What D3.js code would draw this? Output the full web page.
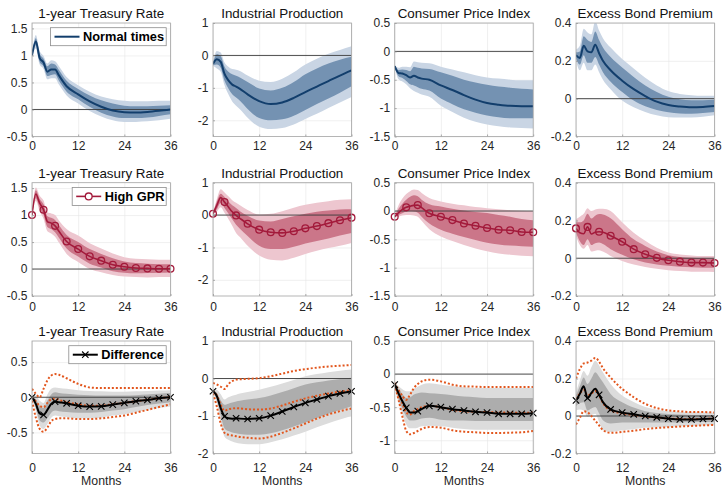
<!DOCTYPE html>
<html>
<head>
<meta charset="utf-8">
<script src="https://cdn.jsdelivr.net/npm/d3@7"></script>
<style>
body { margin: 0; background: #fff; }
text { font-family: "Liberation Sans", Arial, Helvetica, sans-serif; }
</style>
</head>
<body>
<div id="chart"></div>
<script>
var months = [0, 1, 2, 3, 4, 5, 6, 7, 9, 12, 15, 18, 21, 24, 27, 30, 33, 36];
var xTicks = [0, 12, 24, 36];
var titles = ["1-year Treasury Rate", "Industrial Production", "Consumer Price Index", "Excess Bond Premium"];
var legendNames = ["Normal times", "High GPR", "Difference"];

// y limits and ticks, per row / column
var yDomains = [
  [[-0.5, 1.6], [-2.5, 1], [-1.5, 0.5], [-0.2, 0.4]],
  [[-0.5, 1.6], [-2.5, 1], [-1.5, 0.5], [-0.2, 0.4]],
  [[-0.8, 0.8], [-2, 1], [-1.2, 0.5], [-0.2, 0.4]]
];
var yTicks = [
  [[-0.5, 0, 0.5, 1, 1.5], [-2, -1, 0, 1], [-1.5, -1, -0.5, 0, 0.5], [-0.2, 0, 0.2, 0.4]],
  [[-0.5, 0, 0.5, 1, 1.5], [-2, -1, 0, 1], [-1.5, -1, -0.5, 0, 0.5], [-0.2, 0, 0.2, 0.4]],
  [[-0.5, 0, 0.5], [-2, -1, 0, 1], [-1, -0.5, 0, 0.5], [-0.2, 0, 0.2, 0.4]]
];

// ---- Normal times ----
var tbNormMid  = [1.0, 1.26, 0.95, 0.87, 0.70, 0.74, 0.74, 0.63, 0.43, 0.28, 0.15, 0.05, -0.02, -0.05, -0.055, -0.045, -0.025, 0.0];
var tbNormHi68 = [1.02, 1.32, 1.03, 0.94, 0.80, 0.85, 0.83, 0.73, 0.53, 0.38, 0.26, 0.17, 0.11, 0.07, 0.06, 0.06, 0.07, 0.08];
var tbNormLo68 = [0.98, 1.19, 0.88, 0.80, 0.62, 0.64, 0.65, 0.53, 0.33, 0.19, 0.05, -0.06, -0.13, -0.16, -0.16, -0.15, -0.12, -0.09];
var tbNormHi90 = [1.03, 1.38, 1.08, 0.99, 0.85, 0.91, 0.89, 0.80, 0.60, 0.45, 0.33, 0.24, 0.19, 0.16, 0.15, 0.15, 0.16, 0.16];
var tbNormLo90 = [0.97, 1.13, 0.83, 0.75, 0.56, 0.58, 0.58, 0.46, 0.26, 0.11, -0.03, -0.13, -0.20, -0.23, -0.23, -0.22, -0.20, -0.17];

var ipNormMid  = [-0.26, -0.12, -0.2, -0.57, -0.77, -0.9, -0.96, -1.03, -1.2, -1.41, -1.5, -1.45, -1.31, -1.13, -0.96, -0.79, -0.62, -0.46];
var ipNormHi68 = [-0.22, 0.04, -0.02, -0.35, -0.5, -0.58, -0.63, -0.68, -0.82, -1.02, -1.08, -1.0, -0.82, -0.58, -0.4, -0.25, -0.13, -0.04];
var ipNormLo68 = [-0.30, -0.28, -0.38, -0.78, -1.02, -1.2, -1.3, -1.4, -1.65, -1.93, -2.0, -1.97, -1.86, -1.68, -1.5, -1.33, -1.15, -0.95];
var ipNormHi90 = [-0.2, 0.14, 0.09, -0.22, -0.35, -0.42, -0.44, -0.48, -0.62, -0.78, -0.82, -0.72, -0.52, -0.28, -0.1, 0.05, 0.17, 0.28];
var ipNormLo90 = [-0.32, -0.4, -0.5, -0.92, -1.2, -1.42, -1.55, -1.66, -1.92, -2.2, -2.27, -2.24, -2.13, -1.96, -1.8, -1.62, -1.45, -1.28];

var cpiNormMid  = [-0.26, -0.38, -0.39, -0.42, -0.46, -0.43, -0.46, -0.48, -0.5, -0.6, -0.68, -0.77, -0.85, -0.91, -0.94, -0.96, -0.965, -0.965];
var cpiNormHi68 = [-0.25, -0.33, -0.32, -0.33, -0.35, -0.27, -0.29, -0.3, -0.31, -0.37, -0.43, -0.5, -0.55, -0.59, -0.62, -0.64, -0.66, -0.67];
var cpiNormLo68 = [-0.27, -0.44, -0.47, -0.52, -0.58, -0.6, -0.63, -0.66, -0.69, -0.83, -0.93, -1.02, -1.08, -1.13, -1.16, -1.18, -1.18, -1.18];
var cpiNormHi90 = [-0.24, -0.29, -0.27, -0.27, -0.28, -0.18, -0.19, -0.2, -0.21, -0.27, -0.32, -0.37, -0.42, -0.46, -0.48, -0.5, -0.51, -0.51];
var cpiNormLo90 = [-0.28, -0.49, -0.53, -0.58, -0.65, -0.7, -0.73, -0.76, -0.8, -0.96, -1.07, -1.17, -1.24, -1.29, -1.32, -1.34, -1.35, -1.36];

var ebpNormMid  = [0.23, 0.215, 0.28, 0.25, 0.245, 0.285, 0.24, 0.2, 0.15, 0.095, 0.05, 0.014, -0.016, -0.034, -0.042, -0.046, -0.044, -0.039];
var ebpNormHi68 = [0.245, 0.25, 0.33, 0.31, 0.3, 0.355, 0.31, 0.27, 0.22, 0.165, 0.115, 0.07, 0.035, 0.01, -0.003, -0.008, -0.008, -0.006];
var ebpNormLo68 = [0.215, 0.18, 0.23, 0.19, 0.19, 0.22, 0.18, 0.14, 0.09, 0.035, -0.01, -0.04, -0.06, -0.072, -0.078, -0.08, -0.076, -0.07];
var ebpNormHi90 = [0.26, 0.28, 0.37, 0.35, 0.34, 0.41, 0.36, 0.32, 0.27, 0.21, 0.16, 0.11, 0.07, 0.04, 0.025, 0.018, 0.015, 0.015];
var ebpNormLo90 = [0.2, 0.15, 0.19, 0.15, 0.15, 0.18, 0.14, 0.1, 0.05, -0.01, -0.045, -0.07, -0.088, -0.098, -0.1, -0.1, -0.095, -0.088];

// ---- High GPR ----
var tbGprMid  = [1.0, 1.39, 1.22, 1.1, 0.88, 0.85, 0.8, 0.7, 0.51, 0.37, 0.235, 0.155, 0.08, 0.043, 0.02, 0.012, 0.006, 0.006];
var tbGprHi68 = [1.01, 1.46, 1.3, 1.2, 0.98, 0.95, 0.91, 0.81, 0.63, 0.5, 0.37, 0.28, 0.2, 0.14, 0.11, 0.1, 0.09, 0.09];
var tbGprLo68 = [0.99, 1.31, 1.13, 1.0, 0.78, 0.74, 0.68, 0.58, 0.38, 0.23, 0.1, 0.03, -0.04, -0.07, -0.08, -0.075, -0.07, -0.065];
var tbGprHi90 = [1.02, 1.51, 1.36, 1.27, 1.05, 1.03, 1.0, 0.9, 0.74, 0.62, 0.48, 0.38, 0.29, 0.22, 0.19, 0.18, 0.17, 0.17];
var tbGprLo90 = [0.98, 1.26, 1.07, 0.93, 0.7, 0.66, 0.6, 0.49, 0.28, 0.13, 0.0, -0.06, -0.11, -0.14, -0.15, -0.155, -0.15, -0.15];

var ipGprMid  = [0.04, 0.3, 0.54, 0.4, 0.25, 0.1, -0.01, -0.1, -0.27, -0.45, -0.53, -0.55, -0.5, -0.41, -0.34, -0.25, -0.16, -0.08];
var ipGprHi68 = [0.06, 0.42, 0.66, 0.56, 0.42, 0.3, 0.22, 0.12, -0.02, -0.17, -0.2, -0.12, -0.04, 0.04, 0.1, 0.14, 0.17, 0.18];
var ipGprLo68 = [0.02, 0.18, 0.38, 0.22, 0.05, -0.13, -0.3, -0.42, -0.65, -0.95, -1.05, -1.05, -0.98, -0.88, -0.8, -0.72, -0.63, -0.55];
var ipGprHi90 = [0.07, 0.5, 0.8, 0.7, 0.58, 0.46, 0.38, 0.3, 0.16, 0.02, 0.04, 0.12, 0.23, 0.32, 0.38, 0.43, 0.47, 0.49];
var ipGprLo90 = [0.01, 0.1, 0.24, 0.07, -0.12, -0.33, -0.55, -0.68, -0.95, -1.25, -1.38, -1.4, -1.32, -1.2, -1.1, -1.02, -0.95, -0.86];

var cpiGprMid  = [-0.1, -0.03, 0.03, 0.065, 0.085, 0.1, 0.105, 0.06, -0.04, -0.1, -0.16, -0.22, -0.26, -0.3, -0.33, -0.34, -0.37, -0.375];
var cpiGprHi68 = [-0.09, 0.04, 0.13, 0.2, 0.25, 0.28, 0.26, 0.2, 0.12, 0.08, 0.04, 0.01, -0.015, -0.035, -0.07, -0.1, -0.14, -0.165];
var cpiGprLo68 = [-0.11, -0.07, -0.04, -0.01, -0.005, -0.01, -0.03, -0.1, -0.22, -0.33, -0.4, -0.46, -0.51, -0.56, -0.59, -0.61, -0.62, -0.63];
var cpiGprHi90 = [-0.08, 0.1, 0.22, 0.3, 0.35, 0.38, 0.37, 0.32, 0.23, 0.17, 0.13, 0.1, 0.07, 0.05, 0.03, 0.015, 0.005, 0.0];
var cpiGprLo90 = [-0.12, -0.1, -0.08, -0.07, -0.07, -0.08, -0.1, -0.17, -0.32, -0.45, -0.53, -0.6, -0.66, -0.71, -0.75, -0.77, -0.79, -0.8];

var ebpGprMid  = [0.158, 0.135, 0.13, 0.166, 0.128, 0.138, 0.14, 0.138, 0.119, 0.087, 0.048, 0.021, 0.002, -0.011, -0.018, -0.023, -0.023, -0.025];
var ebpGprHi68 = [0.19, 0.19, 0.2, 0.235, 0.21, 0.225, 0.234, 0.232, 0.212, 0.154, 0.1, 0.065, 0.035, 0.016, 0.007, 0.002, 0.0, 0.0];
var ebpGprLo68 = [0.136, 0.09, 0.07, 0.1, 0.07, 0.08, 0.083, 0.075, 0.048, 0.018, -0.006, -0.023, -0.033, -0.04, -0.045, -0.048, -0.05, -0.05];
var ebpGprHi90 = [0.207, 0.22, 0.235, 0.265, 0.25, 0.258, 0.262, 0.262, 0.25, 0.19, 0.135, 0.092, 0.055, 0.03, 0.02, 0.015, 0.012, 0.012];
var ebpGprLo90 = [0.119, 0.07, 0.05, 0.07, 0.035, 0.04, 0.042, 0.035, 0.012, -0.014, -0.033, -0.046, -0.056, -0.064, -0.068, -0.071, -0.072, -0.073];

// ---- Difference (gray bands + orange dotted lines) ----
var tbDiffMid  = [0.0, -0.095, -0.23, -0.25, -0.18, -0.095, -0.062, -0.07, -0.086, -0.12, -0.133, -0.129, -0.105, -0.08, -0.057, -0.038, -0.014, 0.0];
var tbDiffHi68 = [0.015, -0.03, -0.12, -0.15, -0.05, 0.04, 0.07, 0.06, 0.05, 0.035, 0.03, 0.025, 0.025, 0.025, 0.03, 0.04, 0.05, 0.06];
var tbDiffLo68 = [-0.015, -0.15, -0.33, -0.36, -0.3, -0.22, -0.19, -0.2, -0.21, -0.22, -0.22, -0.21, -0.19, -0.17, -0.14, -0.11, -0.09, -0.07];
var tbDiffHi90 = [0.03, 0.02, -0.05, -0.08, 0.04, 0.12, 0.14, 0.13, 0.12, 0.1, 0.09, 0.085, 0.08, 0.08, 0.085, 0.09, 0.095, 0.1];
var tbDiffLo90 = [-0.03, -0.2, -0.4, -0.45, -0.38, -0.29, -0.26, -0.27, -0.28, -0.3, -0.3, -0.29, -0.26, -0.24, -0.21, -0.18, -0.15, -0.13];
var tbDotUp  = [0.12, 0.05, 0.0, 0.12, 0.24, 0.31, 0.33, 0.32, 0.27, 0.19, 0.14, 0.13, 0.13, 0.13, 0.13, 0.13, 0.13, 0.13];
var tbDotMid = [0.0, -0.06, -0.12, -0.14, -0.08, -0.03, -0.02, -0.04, -0.07, -0.1, -0.12, -0.12, -0.1, -0.08, -0.056, -0.036, -0.014, 0.0];
var tbDotLo  = [-0.05, -0.29, -0.45, -0.49, -0.43, -0.34, -0.31, -0.3, -0.3, -0.31, -0.31, -0.3, -0.28, -0.26, -0.22, -0.18, -0.14, -0.1];

var ipDiffMid  = [-0.34, -0.47, -0.79, -1.01, -1.06, -1.07, -1.06, -1.07, -1.08, -1.06, -0.99, -0.88, -0.76, -0.65, -0.56, -0.47, -0.4, -0.34];
var ipDiffHi68 = [-0.31, -0.38, -0.58, -0.7, -0.67, -0.64, -0.61, -0.59, -0.56, -0.52, -0.45, -0.36, -0.26, -0.16, -0.1, -0.05, -0.01, 0.02];
var ipDiffLo68 = [-0.37, -0.56, -0.98, -1.33, -1.4, -1.44, -1.46, -1.48, -1.5, -1.5, -1.46, -1.38, -1.28, -1.17, -1.05, -0.94, -0.84, -0.74];
var ipDiffHi90 = [-0.28, -0.3, -0.42, -0.56, -0.5, -0.46, -0.43, -0.4, -0.36, -0.3, -0.22, -0.13, -0.04, 0.06, 0.12, 0.17, 0.21, 0.24];
var ipDiffLo90 = [-0.4, -0.65, -1.15, -1.55, -1.63, -1.68, -1.71, -1.73, -1.75, -1.75, -1.7, -1.62, -1.52, -1.42, -1.3, -1.19, -1.09, -1.0];
var ipDotUp  = [-0.12, -0.16, -0.22, -0.28, -0.15, -0.07, -0.03, -0.02, -0.01, 0.01, 0.06, 0.13, 0.2, 0.25, 0.29, 0.32, 0.34, 0.36];
var ipDotMid = [-0.34, -0.45, -0.7, -0.86, -0.82, -0.8, -0.79, -0.8, -0.82, -0.83, -0.8, -0.72, -0.62, -0.53, -0.46, -0.4, -0.35, -0.31];
var ipDotLo  = [-0.4, -0.75, -1.2, -1.45, -1.5, -1.52, -1.54, -1.56, -1.58, -1.6, -1.55, -1.45, -1.33, -1.2, -1.07, -0.96, -0.87, -0.8];

var cpiDiffMid  = [-0.16, -0.29, -0.41, -0.51, -0.58, -0.58, -0.56, -0.53, -0.48, -0.5, -0.53, -0.55, -0.57, -0.58, -0.6, -0.6, -0.6, -0.59];
var cpiDiffHi68 = [-0.14, -0.22, -0.3, -0.36, -0.35, -0.31, -0.29, -0.28, -0.29, -0.3, -0.32, -0.34, -0.35, -0.36, -0.36, -0.36, -0.36, -0.36];
var cpiDiffLo68 = [-0.18, -0.38, -0.52, -0.64, -0.7, -0.7, -0.69, -0.67, -0.66, -0.69, -0.7, -0.7, -0.71, -0.71, -0.71, -0.71, -0.71, -0.71];
var cpiDiffHi90 = [-0.13, -0.18, -0.23, -0.26, -0.26, -0.22, -0.19, -0.16, -0.14, -0.16, -0.18, -0.2, -0.21, -0.21, -0.21, -0.21, -0.21, -0.21];
var cpiDiffLo90 = [-0.19, -0.43, -0.6, -0.76, -0.82, -0.82, -0.81, -0.79, -0.78, -0.79, -0.81, -0.83, -0.84, -0.84, -0.84, -0.84, -0.84, -0.84];
var cpiDotUp  = [-0.135, -0.24, -0.33, -0.39, -0.31, -0.21, -0.15, -0.11, -0.085, -0.11, -0.16, -0.185, -0.19, -0.195, -0.195, -0.195, -0.195, -0.195];
var cpiDotMid = [-0.135, -0.3, -0.44, -0.58, -0.61, -0.56, -0.53, -0.5, -0.48, -0.5, -0.54, -0.56, -0.57, -0.575, -0.58, -0.58, -0.585, -0.58];
var cpiDotLo  = [-0.16, -0.39, -0.64, -0.86, -0.91, -0.89, -0.86, -0.83, -0.8, -0.81, -0.85, -0.87, -0.88, -0.89, -0.89, -0.885, -0.88, -0.86];

var ebpDiffMid  = [0.083, 0.118, 0.159, 0.095, 0.123, 0.145, 0.113, 0.074, 0.035, 0.018, 0.009, 0.0, -0.007, -0.014, -0.018, -0.018, -0.016, -0.014];
var ebpDiffHi68 = [0.109, 0.16, 0.206, 0.171, 0.2, 0.233, 0.21, 0.18, 0.118, 0.074, 0.045, 0.025, 0.016, 0.011, 0.008, 0.006, 0.005, 0.004];
var ebpDiffLo68 = [0.053, 0.07, 0.074, 0.03, 0.04, 0.048, 0.015, -0.023, -0.04, -0.035, -0.035, -0.035, -0.035, -0.035, -0.034, -0.033, -0.032, -0.032];
var ebpDiffHi90 = [0.127, 0.19, 0.24, 0.215, 0.26, 0.295, 0.27, 0.233, 0.171, 0.109, 0.075, 0.048, 0.034, 0.025, 0.022, 0.02, 0.019, 0.018];
var ebpDiffLo90 = [0.03, 0.035, 0.03, -0.005, 0.005, 0.012, -0.03, -0.076, -0.085, -0.076, -0.07, -0.063, -0.06, -0.058, -0.055, -0.052, -0.05, -0.049];
var ebpDotUp  = [0.2, 0.25, 0.28, 0.285, 0.295, 0.31, 0.29, 0.255, 0.205, 0.145, 0.1, 0.065, 0.042, 0.03, 0.025, 0.021, 0.021, 0.019];
var ebpDotMid = [0.09, 0.12, 0.14, 0.11, 0.12, 0.135, 0.11, 0.07, 0.03, 0.015, 0.006, -0.002, -0.008, -0.013, -0.016, -0.017, -0.015, -0.013];
var ebpDotLo  = [-0.045, -0.01, 0.025, 0.02, 0.0, -0.025, -0.05, -0.075, -0.09, -0.085, -0.078, -0.07, -0.064, -0.06, -0.056, -0.053, -0.05, -0.048];

// table for drawing, built from the arrays above
var rows = [
  [[tbNormMid, tbNormLo90, tbNormLo68, tbNormHi68, tbNormHi90],
   [ipNormMid, ipNormLo90, ipNormLo68, ipNormHi68, ipNormHi90],
   [cpiNormMid, cpiNormLo90, cpiNormLo68, cpiNormHi68, cpiNormHi90],
   [ebpNormMid, ebpNormLo90, ebpNormLo68, ebpNormHi68, ebpNormHi90]],
  [[tbGprMid, tbGprLo90, tbGprLo68, tbGprHi68, tbGprHi90],
   [ipGprMid, ipGprLo90, ipGprLo68, ipGprHi68, ipGprHi90],
   [cpiGprMid, cpiGprLo90, cpiGprLo68, cpiGprHi68, cpiGprHi90],
   [ebpGprMid, ebpGprLo90, ebpGprLo68, ebpGprHi68, ebpGprHi90]],
  [[tbDiffMid, tbDiffLo90, tbDiffLo68, tbDiffHi68, tbDiffHi90],
   [ipDiffMid, ipDiffLo90, ipDiffLo68, ipDiffHi68, ipDiffHi90],
   [cpiDiffMid, cpiDiffLo90, cpiDiffLo68, cpiDiffHi68, cpiDiffHi90],
   [ebpDiffMid, ebpDiffLo90, ebpDiffLo68, ebpDiffHi68, ebpDiffHi90]]
];
var dotted = [
  [tbDotUp, tbDotMid, tbDotLo],
  [ipDotUp, ipDotMid, ipDotLo],
  [cpiDotUp, cpiDotMid, cpiDotLo],
  [ebpDotUp, ebpDotMid, ebpDotLo]
];

// styles
var lineColor  = ["#123e6c", "#a31a3b", "#000000"];
var innerColor = ["#7492b2", "#cb7689", "#adadad"];
var outerColor = ["#c9d5e4", "#edc6cf", "#dcdcdc"];
var orange = "#e2561d";

// layout
var colLeft = [32, 213, 394.7, 576];
var panelW = 138.5;
var rowTop = [23, 182.7, 341];
var rowH = [113.5, 113.3, 112.5];
var xPad = [5, 6.5, 9.5];
var legendW = [115.7, 94, 97.4];

var svg = d3.select("#chart").append("svg")
  .attr("width", 724)
  .attr("height", 487);
var defs = svg.append("defs");

function fmt(v) { return String(v); }

rows.forEach(function(rowData, r) {
  rowData.forEach(function(s, c) {
    var h = rowH[r];
    var g = svg.append("g").attr("transform", "translate(" + colLeft[c] + "," + rowTop[r] + ")");
    var x = d3.scaleLinear().domain([0, 36]).range([0, panelW]);
    var y = d3.scaleLinear().domain(yDomains[r][c]).range([h, 0]);
    var id = "clip" + r + "_" + c;
    defs.append("clipPath").attr("id", id).append("rect").attr("width", panelW).attr("height", h);

    // grid
    var gx = g.append("g").attr("transform", "translate(0," + h + ")")
      .call(d3.axisBottom(x).tickValues(xTicks).tickSize(-h).tickFormat(""));
    var gy = g.append("g")
      .call(d3.axisLeft(y).tickValues(yTicks[r][c]).tickSize(-panelW).tickFormat(""));
    [gx, gy].forEach(function(a) {
      a.select(".domain").remove();
      a.selectAll("line").attr("stroke", "#e6e6e6").attr("stroke-width", 0.6);
    });

    var plot = g.append("g").attr("clip-path", "url(#" + id + ")");
    var pts = months.map(function(m, j) {
      return { m: m, mid: s[0][j], lo90: s[1][j], lo68: s[2][j], hi68: s[3][j], hi90: s[4][j] };
    });

    var area90 = d3.area().curve(d3.curveMonotoneX)
      .x(function(d) { return x(d.m); })
      .y0(function(d) { return y(d.lo90); })
      .y1(function(d) { return y(d.hi90); });
    var area68 = d3.area().curve(d3.curveMonotoneX)
      .x(function(d) { return x(d.m); })
      .y0(function(d) { return y(d.lo68); })
      .y1(function(d) { return y(d.hi68); });
    plot.append("path").datum(pts).attr("d", area90).attr("fill", outerColor[r]);
    plot.append("path").datum(pts).attr("d", area68).attr("fill", innerColor[r]);

    // zero line
    plot.append("line")
      .attr("x1", 0).attr("x2", panelW)
      .attr("y1", y(0)).attr("y2", y(0))
      .attr("stroke", "#3a3a3a").attr("stroke-width", 0.9);

    var line = d3.line().curve(d3.curveMonotoneX)
      .x(function(d) { return x(d.m); })
      .y(function(d) { return d.v == null ? y(d.mid) : y(d.v); });

    if (r === 2) {
      dotted[c].forEach(function(arr) {
        plot.append("path")
          .datum(months.map(function(m, j) { return { m: m, v: arr[j] }; }))
          .attr("d", line)
          .attr("fill", "none")
          .attr("stroke", orange)
          .attr("stroke-width", 2)
          .attr("stroke-dasharray", "2,2");
      });
    }

    plot.append("path").datum(pts).attr("d", line)
      .attr("fill", "none")
      .attr("stroke", lineColor[r])
      .attr("stroke-width", r === 1 ? 1.6 : 2);

    var marks = pts.filter(function(d) { return d.m % 3 === 0; });
    if (r === 1) {
      g.selectAll(".mk").data(marks).enter().append("circle")
        .attr("cx", function(d) { return x(d.m); })
        .attr("cy", function(d) { return y(d.mid); })
        .attr("r", 3.4)
        .attr("fill", "none")
        .attr("stroke", lineColor[r])
        .attr("stroke-width", 1.3);
    } else if (r === 2) {
      g.selectAll(".mk").data(marks).enter().append("path")
        .attr("transform", function(d) { return "translate(" + x(d.m) + "," + y(d.mid) + ")"; })
        .attr("d", "M-3.2,-3.2L3.2,3.2M-3.2,3.2L3.2,-3.2")
        .attr("stroke", "#000")
        .attr("stroke-width", 1.1);
    }

    // axes with labels
    var ax = g.append("g").attr("transform", "translate(0," + h + ")")
      .call(d3.axisBottom(x).tickValues(xTicks).tickSize(-2).tickPadding(xPad[r]).tickFormat(fmt));
    var ay = g.append("g")
      .call(d3.axisLeft(y).tickValues(yTicks[r][c]).tickSize(-2).tickPadding(4.5).tickFormat(fmt));
    [ax, ay].forEach(function(a) {
      a.select(".domain").remove();
      a.selectAll("line").attr("stroke", "#8a8a8a").attr("stroke-width", 0.7);
      a.selectAll("text")
        .attr("font-size", "12px")
        .attr("fill", "#262626")
        .style("font-family", '"Liberation Sans", Arial, Helvetica, sans-serif');
    });

    // box
    g.append("rect")
      .attr("width", panelW).attr("height", h)
      .attr("fill", "none")
      .attr("stroke", "#a3a3a3")
      .attr("stroke-width", 0.8);

    // title
    g.append("text")
      .attr("x", panelW / 2).attr("y", -9.5)
      .attr("dy", "0.35em")
      .attr("text-anchor", "middle")
      .attr("font-size", "13.4px")
      .attr("fill", "#111")
      .text(titles[c]);

    if (r === 2) {
      g.append("text")
        .attr("x", panelW / 2).attr("y", h + 27.5)
        .attr("dy", "0.35em")
        .attr("text-anchor", "middle")
        .attr("font-size", "12.3px")
        .attr("fill", "#262626")
        .text("Months");
    }

    // legend
    if (c === 0) {
      var lw = legendW[r];
      var lg = g.append("g").attr("transform", "translate(" + (panelW - 4.3 - lw) + ",4.7)");
      lg.append("rect").attr("width", lw).attr("height", 18)
        .attr("fill", "#fff").attr("stroke", "#8c8c8c").attr("stroke-width", 0.8);
      lg.append("line").attr("x1", 4).attr("x2", 29).attr("y1", 9).attr("y2", 9)
        .attr("stroke", lineColor[r]).attr("stroke-width", r === 1 ? 1.6 : 2);
      if (r === 1) {
        lg.append("circle").attr("cx", 16.5).attr("cy", 9).attr("r", 3.4)
          .attr("fill", "#fff").attr("stroke", lineColor[r]).attr("stroke-width", 1.3);
      } else if (r === 2) {
        lg.append("path").attr("transform", "translate(16.5,9)")
          .attr("d", "M-3.2,-3.2L3.2,3.2M-3.2,3.2L3.2,-3.2")
          .attr("stroke", "#000").attr("stroke-width", 1.1);
      }
      lg.append("text").attr("x", 32.5).attr("y", 9).attr("dy", "0.36em")
        .attr("font-size", "12.8px").attr("font-weight", "bold").attr("fill", "#000")
        .text(legendNames[r]);
    }
  });
});
</script>
</body>
</html>
